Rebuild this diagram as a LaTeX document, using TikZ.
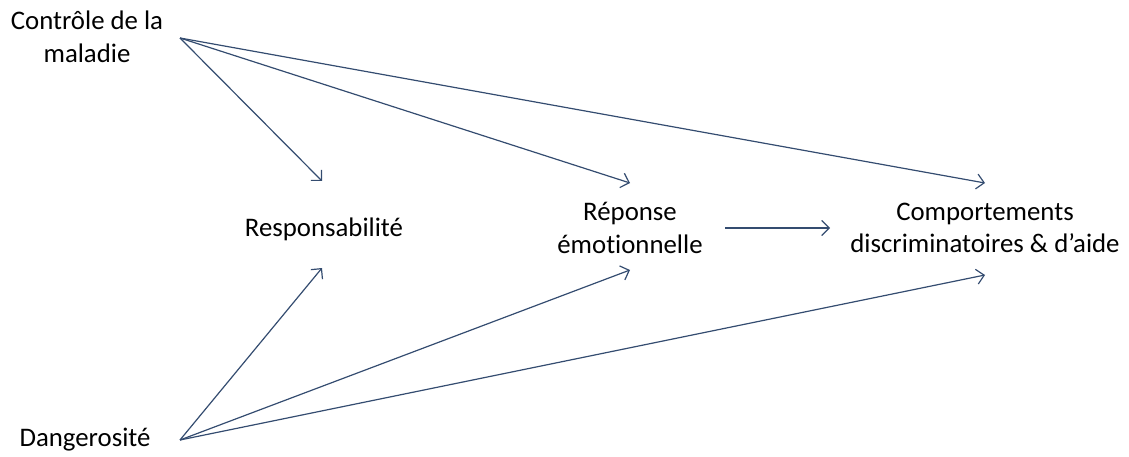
\documentclass[tikz,border=0pt]{standalone}
\usepackage{fontspec}
\setmainfont{Carlito}[Ligatures=NoCommon]
\usetikzlibrary{arrows.meta}
\definecolor{linec}{RGB}{52,76,112}
\begin{document}
\begin{tikzpicture}[x=1pt,y=-1pt,
  lbl/.style={align=center,inner sep=0pt,font=\fontsize{26.8}{32.5}\selectfont},
  conn/.style={draw=linec,line width=1.2pt,-{Straight Barb[length=7.5pt,width=15pt,line width=1.2pt]}}]
\useasboundingbox (0,0) rectangle (1129,457);
\node[lbl] (ctrl) at (87,37) {Contrôle de la\\maladie};
\node[lbl] (resp) at (324,229) {Responsabilité};
\node[lbl] (emo) at (630,228) {Réponse\\émotionnelle};
\node[lbl] (comp) at (985,228) {Comportements\\discriminatoires \& d’aide};
\node[lbl] (dang) at (85,440) {Dangerosité};
\coordinate (cs) at (180,38);
\coordinate (ds) at (180,440);
\coordinate (rt) at (322,181);
\coordinate (rb) at (322,268);
\coordinate (et) at (630,183);
\coordinate (eb) at (630,270);
\coordinate (ct) at (985,183);
\coordinate (cb) at (985,275);
\coordinate (eo) at (725,228);
\coordinate (ci) at (830,228);
\draw[conn] (cs) -- (rt);
\draw[conn] (cs) -- (et);
\draw[conn] (cs) -- (ct);
\draw[conn] (ds) -- (rb);
\draw[conn] (ds) -- (eb);
\draw[conn] (ds) -- (cb);
\draw[conn] (eo) -- (ci);
\end{tikzpicture}
\end{document}
